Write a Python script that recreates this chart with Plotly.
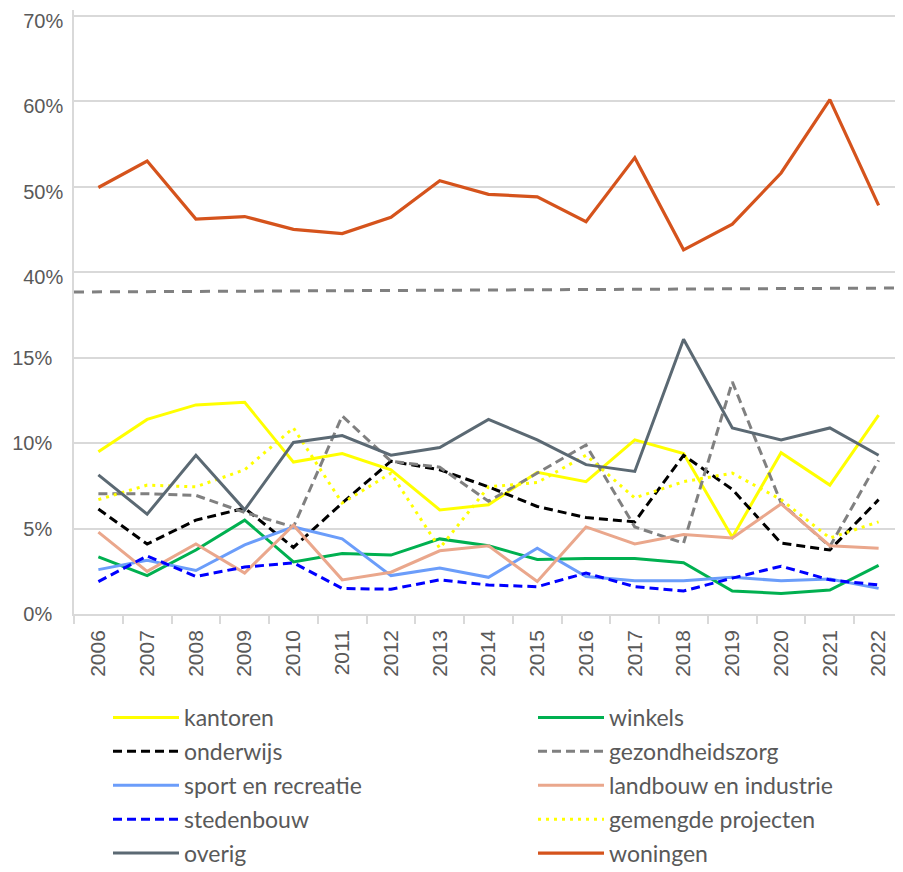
import plotly.graph_objects as go
from plotly.subplots import make_subplots

years = [str(y) for y in range(2006, 2023)]

kantoren = [9.5, 11.4, 12.25, 12.4, 8.9, 9.4, 8.45, 6.1, 6.4, 8.3, 7.75, 10.2, 9.4, 4.5, 9.45, 7.55, 11.65]
winkels = [3.35, 2.25, 3.75, 5.5, 3.05, 3.55, 3.45, 4.4, 4.0, 3.2, 3.25, 3.25, 3.0, 1.35, 1.2, 1.4, 2.85]
onderwijs = [6.15, 4.1, 5.5, 6.2, 3.9, 6.5, 8.95, 8.45, 7.45, 6.3, 5.65, 5.4, 9.3, 7.3, 4.15, 3.75, 6.7]
gezondheidszorg = [7.05, 7.05, 6.95, 5.95, 5.1, 11.6, 8.95, 8.6, 6.6, 8.25, 9.9, 5.1, 4.15, 13.6, 6.5, 3.95, 9.0]
sport_en_recreatie = [2.6, 3.15, 2.55, 4.05, 5.1, 4.4, 2.25, 2.7, 2.15, 3.85, 2.2, 1.95, 1.95, 2.15, 1.95, 2.05, 1.5]
landbouw_en_industrie = [4.8, 2.5, 4.1, 2.4, 5.2, 2.0, 2.45, 3.7, 4.0, 1.9, 5.1, 4.1, 4.65, 4.45, 6.45, 4.0, 3.85]
stedenbouw = [1.9, 3.4, 2.2, 2.75, 3.0, 1.5, 1.45, 2.0, 1.7, 1.6, 2.4, 1.6, 1.35, 2.1, 2.8, 2.0, 1.7]
gemengde_projecten = [6.7, 7.55, 7.45, 8.45, 10.9, 6.5, 8.25, 3.85, 7.45, 7.7, 9.3, 6.8, 7.75, 8.25, 6.7, 4.45, 5.4]
overig = [8.15, 5.85, 9.3, 6.1, 10.05, 10.45, 9.3, 9.75, 11.4, 10.2, 8.75, 8.35, 16.1, 10.9, 10.2, 10.9, 9.3]
woningen = [49.9, 53.0, 46.2, 46.5, 45.0, 44.5, 46.4, 50.7, 49.1, 48.8, 45.9, 53.4, 42.6, 45.6, 51.6, 60.2, 47.8]

upper_ticks = [40, 50, 60, 70]
lower_ticks = [0, 5, 10, 15]

# name, values, color, dash, legend column
series = [
    ("kantoren", kantoren, "#FFFF00", "solid", "legend"),
    ("winkels", winkels, "#00B050", "solid", "legend2"),
    ("onderwijs", onderwijs, "#000000", "9px,5px", "legend"),
    ("gezondheidszorg", gezondheidszorg, "#808080", "9px,5px", "legend2"),
    ("sport en recreatie", sport_en_recreatie, "#6B9DFA", "solid", "legend"),
    ("landbouw en industrie", landbouw_en_industrie, "#EAA78C", "solid", "legend2"),
    ("stedenbouw", stedenbouw, "#0000FF", "9px,5px", "legend"),
    ("gemengde projecten", gemengde_projecten, "#FFFF00", "3px,5px", "legend2"),
    ("overig", overig, "#5B6973", "solid", "legend"),
]

fig = make_subplots(rows=2, cols=1, shared_xaxes=True, vertical_spacing=0)

for name, vals, color, dash, lg in series:
    fig.add_trace(go.Scatter(x=years, y=vals, name=name, mode="lines",
                             line=dict(color=color, width=3, dash=dash),
                             legend=lg, legendgroup=name), row=2, col=1)

fig.add_trace(go.Scatter(x=years, y=woningen, name="woningen", mode="lines",
                         line=dict(color="#D5531C", width=3.2),
                         legend="legend2", legendgroup="woningen"), row=1, col=1)

grey = "#595959"
gridc = "#D9D9D9"
font_axis = dict(family="Liberation Sans, Arial", size=20, color=grey)
font_leg = dict(family="Lato, Liberation Sans", size=23, color=grey)

# plot area: fig pixel 2 .. 606 (height 604); split 314 px above bottom
split = 314 / 604
upper_top = 70 + 6 / 8.53
upper_bot = 40 - 28 / 8.53
lower_top = 314 / 17.07

def ypaper(px):  # fig pixel -> paper y
    return 1 - (px - 2) / 604

fig.update_layout(
    width=895, height=864,
    margin=dict(l=66, r=0, t=2, b=258, autoexpand=False),
    plot_bgcolor="white", paper_bgcolor="white",
    font=font_axis,
    xaxis=dict(showticklabels=False, showgrid=False, showline=False, ticks="",
               range=[-0.5, len(years) - 0.5]),
    xaxis2=dict(type="category", range=[-0.5, len(years) - 0.5],
                showgrid=False, showline=True, linecolor=gridc, linewidth=1.5,
                ticks="outside", ticklen=8, tickcolor=gridc, tickwidth=1.5, tickson="boundaries",
                tickangle=-90, ticklabelstandoff=6,
                tickfont=dict(family="Liberation Sans, Arial", size=21, color=grey)),
    yaxis=dict(domain=[split, 1], range=[upper_bot, upper_top], tickmode="array",
               tickvals=upper_ticks, ticktext=[f"{v}%" for v in upper_ticks],
               ticklabeloverflow="allow", ticklabelshift=5, ticklabelstandoff=5,
               showgrid=True, gridcolor=gridc, gridwidth=1.5,
               showline=True, linecolor=gridc, linewidth=1.5, zeroline=False, ticks=""),
    yaxis2=dict(domain=[0, split], range=[0, lower_top], tickmode="array",
                tickvals=lower_ticks, ticktext=[f"{v}%" for v in lower_ticks],
                ticklabeloverflow="allow", ticklabelstandoff=16,
                showgrid=True, gridcolor=gridc, gridwidth=1.5,
                showline=True, linecolor=gridc, linewidth=1.5, zeroline=False, ticks=""),
    legend=dict(x=(108 - 74) / 829, y=ypaper(688), xanchor="left", yanchor="top",
                orientation="v", tracegroupgap=1, itemwidth=66, font=font_leg),
    legend2=dict(x=(533 - 74) / 829, y=ypaper(688), xanchor="left", yanchor="top",
                 orientation="v", tracegroupgap=1, itemwidth=66, font=font_leg),
    shapes=[dict(type="line", xref="paper", yref="paper", x0=0, x1=1,
                 y0=ypaper(284), y1=ypaper(280),
                 line=dict(color="#808080", width=3, dash="10px,8px"))],
)

fig.write_html("out.html")
